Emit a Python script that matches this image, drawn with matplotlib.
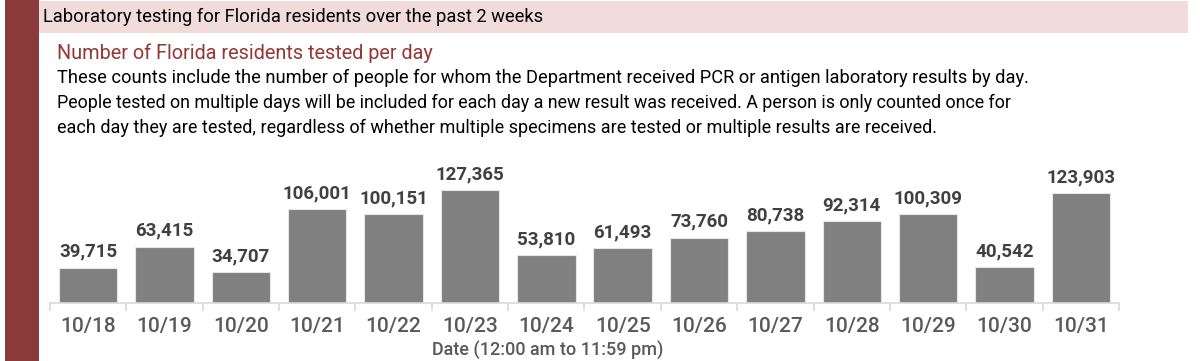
import matplotlib
matplotlib.use("Agg")
import matplotlib.pyplot as plt
from matplotlib import font_manager
from matplotlib.patches import Rectangle

dates = ["10/18", "10/19", "10/20", "10/21", "10/22", "10/23", "10/24",
         "10/25", "10/26", "10/27", "10/28", "10/29", "10/30", "10/31"]
tested = [39715, 63415, 34707, 106001, 100151, 127365, 53810,
          61493, 73760, 80738, 92314, 100309, 40542, 123903]

header = "Laboratory testing for Florida residents over the past 2 weeks"
subtitle = "Number of Florida residents tested per day"
body = [
    "These counts include the number of people for whom the Department received PCR or antigen laboratory results by day.",
    "People tested on multiple days will be included for each day a new result was received. A person is only counted once for",
    "each day they are tested, regardless of whether multiple specimens are tested or multiple results are received.",
]
xlabel = "Date (12:00 am to 11:59 pm)"

names = sorted({f.name for f in font_manager.fontManager.ttflist})
narrow = "Roboto"
main_font = "Roboto"

W, H = 1200, 361
fig = plt.figure(figsize=(W / 100, H / 100), dpi=100)
fig.patch.set_facecolor("white")

def fx(x):
    return x / W

def fy(y):
    return 1 - y / H

# decorative blocks
fig.add_artist(Rectangle((fx(5), 0), fx(34), 1, transform=fig.transFigure,
                         facecolor="#8B3A3A", edgecolor="none", zorder=0))
fig.add_artist(Rectangle((fx(39), fy(33)), fx(1188 - 39), fy(1) - fy(33),
                         transform=fig.transFigure, facecolor="#F2DCDB",
                         edgecolor="none", zorder=0))

renderer = fig.canvas.get_renderer()

def fit_text(x, y, s, target_right, color, family, size0=12, weight="normal"):
    t = fig.text(fx(x), fy(y), s, color=color, family=family, fontsize=size0,
                 weight=weight, va="center", ha="left")
    w = t.get_window_extent(renderer=renderer).width
    t.set_fontsize(size0 * (target_right - x) / w)
    return t

fit_text(43, 17, header, 541, "#000000", main_font)
fit_text(57, 53, subtitle, 432, "#953735", main_font)
fit_text(57, 78, body[0], 1027, "#000000", main_font)
fit_text(57, 103, body[1], 1012, "#000000", main_font)
fit_text(57, 128, body[2], 931, "#000000", main_font)

# axes: x from 50 to 1119 px, baseline at 303
ymax = 160000
top_px = 303 - ymax * 113 / 127365
ax = fig.add_axes([fx(50), fy(303), fx(1119 - 50), fy(top_px) - fy(303)])
x = list(range(len(dates)))
bars = ax.bar(x, tested, width=0.765, color="#808080", edgecolor="#e6e6e6",
              linewidth=0.8, zorder=2)
ax.set_xlim(-0.5, len(dates) - 0.5)
ax.set_ylim(0, ymax)
ax.patch.set_alpha(0)
for s in ["top", "right", "left"]:
    ax.spines[s].set_visible(False)
ax.spines["bottom"].set_color("#d9d9d9")
ax.spines["bottom"].set_linewidth(1.2)
ax.set_yticks([])
ax.set_xticks([i - 0.5 for i in range(len(dates) + 1)], minor=False)
ax.set_xticklabels([])
ax.tick_params(axis="x", which="major", length=6, color="#d9d9d9", width=1.2)
ax.set_xticks(x, minor=True)
ax.set_xticklabels(dates, minor=True)
ax.tick_params(axis="x", which="minor", length=0, pad=10, labelsize=15,
               labelcolor="#595959")
for lab in ax.get_xticklabels(minor=True):
    lab.set_family(narrow)
    lab.set_weight("medium")

for xi, v in zip(x, tested):
    ax.annotate(f"{v:,}", (xi, v), xytext=(0, 5), textcoords="offset points",
                ha="center", va="bottom", fontsize=13.5, family=narrow,
                weight="bold", color="#404040")

fig.text(fx(548), fy(351), xlabel, ha="center", va="center", fontsize=13,
         family=narrow, weight="medium", color="#595959")

fig.savefig("out.png", dpi=100)
